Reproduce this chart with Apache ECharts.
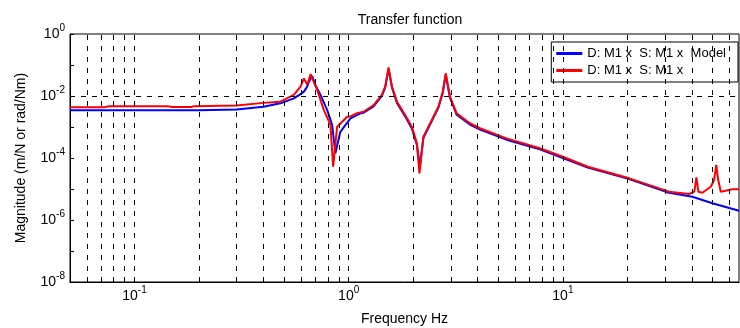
<!DOCTYPE html>
<html>
<head>
<meta charset="utf-8">
<script src="https://cdn.jsdelivr.net/npm/echarts@6/dist/echarts.min.js"></script>
<style>
  html, body { margin: 0; padding: 0; background: #fff; }
  #tf { width: 740px; height: 328px; }
</style>
</head>
<body>
<div id="tf"></div>
<script>
// model curve (blue)
var freqModel = [0.05, 0.1, 0.2, 0.3, 0.4, 0.48, 0.555, 0.596, 0.618, 0.64, 0.652, 0.676, 0.70, 0.738, 0.794, 0.837, 0.867,
  0.914, 1.019, 1.135, 1.175, 1.307, 1.429, 1.481, 1.535, 1.592, 1.68, 1.835, 1.972, 2.081, 2.15, 2.233, 2.399, 2.623,
  2.75, 2.838, 2.972, 3.19, 3.68, 4.1, 5.45, 7.8, 10, 13.07, 20.4, 31.3, 40.2, 49.9, 66.4];
var magModel = [3.5e-3, 3.5e-3, 3.5e-3, 3.7e-3, 4.5e-3, 5.8e-3, 8.4e-3, 1.15e-2, 1.38e-2, 2.0e-2, 2.9e-2, 4.4e-2, 2.2e-2, 1.1e-2, 3.5e-3, 1.17e-3, 1.42e-4,
  7e-4, 1.9e-3, 2.76e-3, 2.9e-3, 4.6e-3, 1.0e-2, 1.9e-2, 7.5e-2, 1.9e-2, 6.0e-3, 2.2e-3, 9e-4, 2.7e-4, 5.5e-5, 4.5e-4, 1.2e-3, 4.2e-3,
  1.3e-2, 4.8e-2, 8.8e-3, 2.5e-3, 1.2e-3, 8.3e-4, 3.9e-4, 1.9e-4, 1.0e-4, 4.9e-5, 2.1e-5, 7.6e-6, 5.65e-6, 3.46e-6, 2.0e-6];

// measured curve (red)
var freqMeas = [0.05, 0.072, 0.076, 0.143, 0.15, 0.184, 0.19, 0.3, 0.4, 0.48, 0.555, 0.596, 0.618, 0.641, 0.664, 0.713, 0.766,
  0.822, 0.846, 0.883, 0.984, 1.019, 1.094, 1.175, 1.307, 1.429, 1.481, 1.535, 1.592, 1.68, 1.835, 1.972, 2.081, 2.14,
  2.233, 2.399, 2.623, 2.75, 2.838, 2.972, 3.19, 3.68, 4.1, 5.45, 7.8, 10, 13.07, 20.4, 31.3, 38.8, 41.1, 42.0, 42.9,
  44.8, 46.5, 49.0, 50.8, 52.0, 53.1, 54.6, 57.5, 61.8, 66.4];
var magMeas = [4.3e-3, 4.3e-3, 4.7e-3, 4.7e-3, 4.4e-3, 4.4e-3, 4.7e-3, 4.9e-3, 6.0e-3, 6.55e-3, 1.08e-2, 2.0e-2, 3.7e-2, 2.3e-2, 5.1e-2, 1.56e-2, 3.5e-3,
  1.17e-3, 5.2e-5, 1.02e-3, 2.15e-3, 2.2e-3, 2.8e-3, 3.1e-3, 5.1e-3, 1.08e-2, 2.0e-2, 8.4e-2, 2.0e-2, 6.55e-3, 2.45e-3, 1.02e-3, 2.97e-4, 3.2e-5,
  4.9e-4, 1.3e-3, 4.5e-3, 1.38e-2, 5.4e-2, 9.5e-3, 2.76e-3, 1.32e-3, 9.1e-4, 4.3e-4, 2.06e-4, 1.1e-4, 5.24e-5, 2.21e-5, 8.2e-6, 6.9e-6, 8.2e-6, 2.38e-5, 8.2e-6,
  7.6e-6, 9.1e-6, 1.18e-5, 1.95e-5, 5.95e-5, 1.95e-5, 8.2e-6, 8.8e-6, 9.8e-6, 9.8e-6];

var seriesNames = ['D: M1 x  S: M1 x  Model', 'D: M1 x  S: M1 x'];
var xMin = 0.05, xMax = 66.4;
var yMin = 1e-8, yMax = 1;
var yGridValues = [1e-2, 1e-4, 1e-6];

function pairs(xs, ys) {
  return xs.map(function (x, i) { return [x, ys[i]]; });
}

// dashed grid at 1..9 x each decade
var xGridValues = [];
[0.01, 0.1, 1, 10].forEach(function (d) {
  for (var k = 1; k <= 9; k++) {
    var v = d * k;
    if (v > xMin * 1.001 && v < xMax * 0.999) xGridValues.push(+v.toPrecision(3));
  }
});

var gridLines = xGridValues.map(function (v) { return { xAxis: v }; })
  .concat(yGridValues.map(function (v) { return { yAxis: v }; }));

var FONT = 'Arial, "Liberation Sans", sans-serif';

function powLabel(value, onlyEven) {
  var e = Math.log10(value);
  var r = Math.round(e);
  if (Math.abs(e - r) > 1e-6) return '';
  if (onlyEven && r % 2 !== 0) return '';
  return '{b|10}{s|' + r + '}';
}

var richPow = {
  b: { fontSize: 14, fontFamily: FONT, color: '#000', lineHeight: 15, verticalAlign: 'bottom' },
  s: { fontSize: 10, fontFamily: FONT, color: '#000', lineHeight: 10, padding: [0, 0, 8, 0], verticalAlign: 'bottom' }
};

var chart = echarts.init(document.getElementById('tf'));
var option = {
  animation: false,
  backgroundColor: '#fff',
  title: {
    text: 'Transfer function',
    left: 405,
    textAlign: 'center',
    top: 8,
    textStyle: { fontSize: 14, fontWeight: 'normal', color: '#000', fontFamily: FONT }
  },
  legend: {
    data: seriesNames,
    orient: 'vertical',
    right: 2,
    top: 42,
    padding: [4, 12, 4, 5],
    itemGap: 2,
    icon: 'rect',
    itemWidth: 26,
    itemHeight: 3,
    backgroundColor: '#fff',
    borderColor: '#000',
    borderWidth: 1,
    borderRadius: 0,
    textStyle: { fontSize: 13, color: '#000', fontFamily: FONT, lineHeight: 15 }
  },
  grid: {
    left: 70,
    right: 1,
    top: 34,
    bottom: 46,
    show: true,
    borderColor: '#000',
    borderWidth: 1,
    outerBoundsMode: 'none'
  },
  xAxis: {
    type: 'log',
    logBase: 10,
    min: xMin,
    max: xMax,
    name: 'Frequency Hz',
    nameLocation: 'middle',
    nameGap: 30,
    nameTextStyle: { fontSize: 14, color: '#000', fontFamily: FONT },
    axisLine: { lineStyle: { color: '#000', width: 1 } },
    axisTick: { show: false },
    splitLine: { show: false },
    axisLabel: {
      showMinLabel: false,
      showMaxLabel: false,
      margin: 6,
      formatter: function (v) { return powLabel(v, false); },
      rich: richPow
    }
  },
  yAxis: {
    type: 'log',
    logBase: 10,
    min: yMin,
    max: yMax,
    name: 'Magnitude (m/N or rad/Nm)',
    nameLocation: 'middle',
    nameGap: 42,
    nameTextStyle: { fontSize: 14, color: '#000', fontFamily: FONT },
    axisLine: { lineStyle: { color: '#000', width: 1 } },
    axisTick: { inside: true, length: 4, lineStyle: { color: '#000' } },
    splitLine: { show: false },
    axisLabel: {
      margin: 5,
      formatter: function (v) { return powLabel(v, true); },
      rich: richPow
    }
  },
  series: [
    {
      name: 'grid',
      type: 'line',
      data: [],
      z: 1,
      silent: true,
      markLine: {
        silent: true,
        symbol: ['none', 'none'],
        label: { show: false },
        lineStyle: { type: [5, 6], color: '#000', width: 1 },
        emphasis: { disabled: true },
        data: gridLines
      }
    },
    {
      name: seriesNames[0],
      type: 'line',
      symbol: 'none',
      z: 3,
      lineStyle: { color: '#0000ff', width: 2 },
      itemStyle: { color: '#0000ff' },
      data: pairs(freqModel, magModel)
    },
    {
      name: seriesNames[1],
      type: 'line',
      symbol: 'none',
      z: 4,
      lineStyle: { color: '#ff0000', width: 2 },
      itemStyle: { color: '#ff0000' },
      data: pairs(freqMeas, magMeas)
    }
  ]
};
chart.setOption(option);
</script>
</body>
</html>
